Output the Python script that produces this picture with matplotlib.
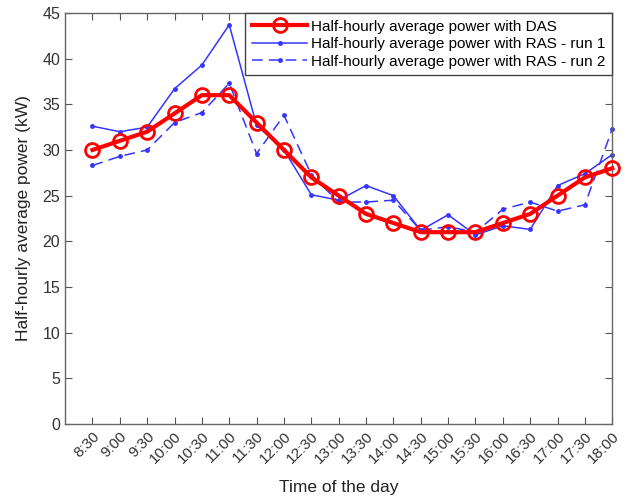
import matplotlib
matplotlib.use("Agg")
import matplotlib.pyplot as plt
import numpy as np

plt.rcParams['font.family'] = ['Liberation Sans', 'DejaVu Sans']

times = ["8:30", "9:00", "9:30", "10:00", "10:30", "11:00", "11:30", "12:00",
         "12:30", "13:00", "13:30", "14:00", "14:30", "15:00", "15:30", "16:00",
         "16:30", "17:00", "17:30", "18:00"]

das = [30, 31, 32, 34, 36, 36, 33, 30, 27, 25, 23, 22, 21, 21, 21, 22, 23, 25, 27, 28]
ras_run1 = [32.6, 32.0, 32.5, 36.7, 39.3, 43.7, 32.7, 30.0, 25.1, 24.5, 26.1, 25.0,
            21.2, 22.9, 20.7, 21.7, 21.3, 26.1, 27.4, 29.5]
ras_run2 = [28.3, 29.3, 30.0, 33.0, 34.1, 37.3, 29.6, 33.8, 27.3, 24.3, 24.3, 24.5,
            21.2, 21.6, 21.0, 23.5, 24.3, 23.3, 24.0, 32.3]

x = np.arange(1, len(times) + 1)

fig = plt.figure(figsize=(6.26, 4.98), dpi=100)
ax = fig.add_axes([0.104, 0.1486, 0.874, 0.8254])

ax.plot(x, das, color='red', lw=3, marker='o', ms=10, mfc='none', mew=2,
        label='Half-hourly average power with DAS', zorder=3, clip_on=False)
ax.plot(x, ras_run1, color='#3535ff', lw=1.1, marker='.', ms=5,
        label='Half-hourly average power with RAS - run 1', zorder=2, clip_on=False)
ax.plot(x, ras_run2, color='#3535ff', lw=1.1, marker='.', ms=5, ls=(0, (7, 4)),
        label='Half-hourly average power with RAS - run 2', zorder=2, clip_on=False)

ax.set_xlim(0, 20)
ax.set_ylim(0, 45)
ax.set_xticks(x)
ax.set_xticklabels(times, rotation=45, ha='right', rotation_mode='anchor', fontsize=11)
ax.set_yticks(np.arange(0, 46, 5))
ax.tick_params(axis='y', labelsize=11.5, colors='#333333')
ax.tick_params(axis='x', colors='#333333')
ax.tick_params(direction='in', top=True, right=True, length=5, width=0.8, color='#555555')
for s in ax.spines.values():
    s.set_color('#666666')
    s.set_linewidth(1)

ax.set_xlabel('Time of the day', fontsize=12.5, color='#222222', labelpad=10)
ax.set_ylabel('Half-hourly average power (kW)', fontsize=12.5, color='#222222', labelpad=8)

leg = ax.legend(loc='upper right', fontsize=11, borderaxespad=0, fancybox=False,
                framealpha=1, edgecolor='#444444', handlelength=3.6,
                handletextpad=0.25, borderpad=0.45, labelspacing=0.22)
leg.get_frame().set_linewidth(1)
leg.set_zorder(5)

fig.savefig('out.png', dpi=100)
